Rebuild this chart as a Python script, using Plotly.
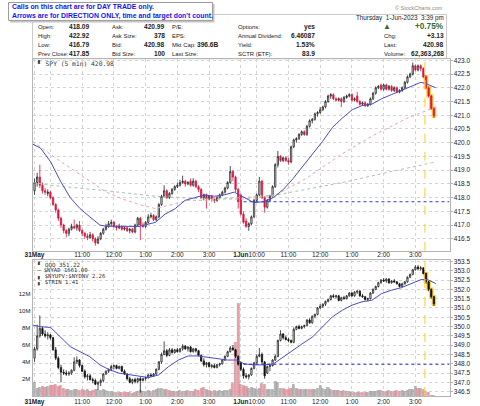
import plotly.graph_objects as go

# ------------------------------------------
# DATA  (5-min bars: 0..77 = 31 May 9:30-15:55, 78..151 = 1 Jun 9:30-15:35)
# ------------------------------------------
SPY_OPEN = [
    418.25, 418.55, 418.75, 418.45, 418.25, 418.15, 418.2, 418.0, 417.75, 417.55,
    417.25, 417.0, 416.8, 416.7, 416.85, 416.95, 416.9, 417.0, 416.8, 416.7,
    416.6, 416.55, 416.65, 416.5, 416.35, 416.5, 416.7, 416.85, 416.95, 417.05,
    417.1, 416.95, 416.9, 416.95, 416.85, 416.9, 416.8, 416.85, 416.75, 417.0,
    417.25, 417.0, 416.95, 417.1, 417.3, 417.35, 417.2, 417.3, 417.75, 418.05,
    418.25, 418.0, 418.15, 418.3, 418.4, 418.45, 418.55, 418.6, 418.5, 418.6,
    418.45, 418.6, 418.4, 418.3, 418.0, 418.1, 417.95, 418.05, 417.95, 417.9,
    418.0, 418.1, 418.2, 418.35, 418.55, 418.95, 418.75, 418.3,
    # 1 Jun
    418.09, 417.4, 417.15, 416.95, 417.05, 417.3, 417.9, 418.1, 418.6, 418.0,
    417.65, 417.9, 418.05, 418.4, 419.2, 419.5, 419.35, 419.45, 419.35, 419.3,
    419.85, 420.1, 420.15, 420.3, 420.4, 420.3, 420.6, 420.8, 420.85, 421.05,
    421.1, 421.2, 421.3, 421.5, 421.7, 421.75, 421.6, 421.55, 421.6, 421.5,
    421.65, 421.7, 421.75, 421.55, 421.7, 421.5, 421.4, 421.45, 421.35, 421.4,
    421.6, 421.8, 422.0, 422.1, 421.95, 422.1, 421.95, 422.05, 421.9, 422.0,
    421.85, 421.9, 422.0, 422.2, 422.4, 422.5, 422.8, 422.65, 422.8, 422.7,
    422.4, 422.0, 421.7, 421.25,
]
SPY_HIGH = [
    418.7, 418.9, 419.2, 418.55, 418.35, 418.3, 418.25, 418.05, 417.8, 417.6,
    417.3, 417.05, 416.85, 416.9, 417.05, 417.2, 417.05, 417.15, 416.85, 416.75,
    416.7, 416.75, 416.7, 416.55, 416.6, 416.75, 416.9, 417.05, 417.15, 417.2,
    417.15, 417.0, 417.05, 417.0, 416.95, 416.95, 416.9, 416.9, 417.05, 417.3,
    417.3, 417.1, 417.15, 417.4, 417.45, 417.4, 417.35, 417.8, 418.1, 418.45,
    418.3, 418.2, 418.35, 418.45, 418.55, 418.65, 418.8, 418.65, 418.6, 418.7,
    418.7, 418.65, 418.45, 418.35, 418.15, 418.15, 418.1, 418.1, 418.0, 418.05,
    418.15, 418.25, 418.4, 418.6, 419.15, 419.0, 418.8, 418.35,
    # 1 Jun
    418.15, 417.5, 417.25, 417.1, 417.35, 417.95, 418.15, 418.75, 418.65, 418.05,
    417.95, 418.1, 418.45, 419.25, 419.7, 419.55, 419.5, 419.5, 419.45, 419.9,
    420.15, 420.2, 420.35, 420.45, 420.45, 420.65, 420.85, 420.9, 421.1, 421.15,
    421.3, 421.35, 421.55, 421.75, 421.8, 421.8, 421.65, 421.65, 421.65, 421.7,
    421.75, 421.8, 421.8, 421.65, 421.85, 421.55, 421.5, 421.5, 421.45, 421.65,
    421.85, 422.05, 422.1, 422.15, 422.15, 422.15, 422.1, 422.1, 422.05, 422.05,
    421.95, 422.05, 422.25, 422.45, 422.55, 422.92, 422.85, 422.85, 422.85, 422.75,
    422.45, 422.05, 421.75, 421.3,
]
SPY_LOW = [
    418.1, 418.4, 418.35, 418.15, 418.1, 418.05, 417.95, 417.7, 417.45, 417.15,
    416.9, 416.7, 416.55, 416.6, 416.8, 416.85, 416.8, 416.75, 416.6, 416.5,
    416.45, 416.5, 416.4, 416.25, 416.3, 416.45, 416.65, 416.8, 416.9, 416.95,
    416.9, 416.8, 416.85, 416.8, 416.8, 416.75, 416.7, 416.7, 416.7, 416.95,
    416.45, 416.9, 416.9, 417.05, 417.25, 417.15, 417.15, 417.25, 417.7, 418.0,
    417.95, 417.95, 418.1, 418.25, 418.35, 418.4, 418.5, 418.4, 418.45, 418.4,
    418.4, 418.35, 418.2, 417.95, 417.9, 417.6, 417.9, 417.85, 417.8, 417.85,
    417.95, 418.05, 418.15, 418.3, 418.5, 418.6, 418.2, 417.6,
    # 1 Jun
    417.35, 417.05, 416.9, 416.79, 417.0, 417.25, 417.85, 418.05, 417.95, 417.45,
    417.6, 417.85, 418.0, 418.35, 419.1, 419.3, 419.3, 419.3, 419.2, 419.25,
    419.8, 420.0, 420.1, 420.25, 420.25, 420.25, 420.55, 420.7, 420.8, 420.95,
    421.05, 421.15, 421.25, 421.45, 421.6, 421.55, 421.5, 421.5, 421.3, 421.45,
    421.6, 421.65, 421.5, 421.5, 421.45, 421.35, 421.35, 421.3, 421.3, 421.35,
    421.55, 421.75, 421.95, 421.9, 421.9, 421.9, 421.9, 421.85, 421.85, 421.8,
    421.8, 421.85, 421.95, 422.15, 422.35, 422.45, 422.6, 422.6, 422.6, 422.35,
    421.95, 421.65, 421.2, 420.9,
]
SPY_CLOSE = [
    418.55, 418.75, 418.45, 418.25, 418.2, 418.2, 418.0, 417.75, 417.55, 417.25,
    417.0, 416.8, 416.7, 416.85, 416.95, 416.9, 417.0, 416.8, 416.7, 416.6,
    416.55, 416.65, 416.5, 416.35, 416.5, 416.7, 416.85, 416.95, 417.05, 417.1,
    416.95, 416.9, 416.95, 416.85, 416.9, 416.8, 416.85, 416.75, 417.0, 417.25,
    417.0, 416.95, 417.1, 417.3, 417.35, 417.2, 417.3, 417.75, 418.05, 418.25,
    418.0, 418.15, 418.3, 418.4, 418.45, 418.55, 418.6, 418.5, 418.55, 418.45,
    418.6, 418.4, 418.3, 418.0, 418.1, 417.95, 418.05, 417.95, 417.9, 418.0,
    418.1, 418.2, 418.35, 418.55, 418.95, 418.75, 418.3, 417.85,
    # 1 Jun
    417.4, 417.1, 416.95, 417.05, 417.3, 417.9, 418.1, 418.6, 418.0, 417.65,
    417.9, 418.05, 418.4, 419.2, 419.5, 419.35, 419.45, 419.35, 419.3, 419.85,
    420.1, 420.15, 420.3, 420.4, 420.3, 420.6, 420.8, 420.85, 421.05, 421.1,
    421.2, 421.3, 421.5, 421.7, 421.75, 421.6, 421.55, 421.6, 421.5, 421.65,
    421.7, 421.75, 421.55, 421.6, 421.5, 421.4, 421.45, 421.35, 421.4, 421.6,
    421.8, 422.0, 422.05, 421.95, 422.1, 421.95, 422.05, 421.9, 422.0, 421.85,
    421.9, 422.0, 422.2, 422.4, 422.5, 422.8, 422.65, 422.8, 422.7, 422.4,
    422.0, 421.7, 421.25, 420.98,
]

QQQ_OPEN = [
    348.3, 348.8, 349.5, 349.9, 349.6, 349.5, 349.55, 349.4, 348.75, 348.3,
    347.8, 347.55, 347.5, 347.45, 347.5, 347.65, 348.1, 348.2, 347.9, 347.6,
    347.3, 347.35, 347.15, 347.1, 346.9, 347.0, 347.1, 347.45, 347.6, 347.7,
    347.85, 347.9, 347.75, 347.85, 347.6, 347.45, 347.2, 347.0, 347.15, 347.05,
    347.2, 347.1, 347.2, 347.25, 347.4, 347.35, 347.45, 347.7, 348.1, 348.5,
    348.7, 348.45, 348.75, 348.6, 348.75, 348.65, 348.8, 348.95, 348.8, 348.9,
    348.65, 348.8, 348.7, 348.45, 348.15, 347.95, 348.05, 347.85, 347.9, 347.8,
    347.95, 348.0, 348.2, 348.4, 348.65, 348.85, 348.75, 348.4,
    # 1 Jun
    348.05, 347.7, 347.35, 347.3, 347.4, 347.75, 348.05, 348.4, 348.5, 348.1,
    347.5, 347.85, 347.9, 348.2, 348.4, 349.25, 349.6, 349.4, 349.3, 349.25,
    349.15, 349.85, 350.0, 349.9, 350.0, 350.05, 350.35, 350.2, 350.55, 350.65,
    351.0, 351.1, 351.2, 351.35, 351.45, 351.65, 351.6, 351.65, 351.4, 351.55,
    351.5, 351.65, 351.8, 351.65, 351.85, 351.9, 351.65, 351.6, 351.45, 351.5,
    351.8, 352.0, 352.15, 352.35, 352.5, 352.45, 352.55, 352.35, 352.45, 352.4,
    352.3, 352.15, 352.3, 352.4, 352.65, 352.8, 353.05, 353.2, 353.1, 353.15,
    352.85, 352.4, 352.0, 351.6,
]
QQQ_HIGH = [
    348.9, 350.1, 350.6, 350.0, 349.8, 349.7, 349.6, 349.45, 348.9, 348.4,
    347.95, 347.7, 347.65, 347.6, 347.7, 348.35, 348.4, 348.25, 347.95, 347.7,
    347.45, 347.45, 347.25, 347.2, 347.05, 347.2, 347.5, 347.65, 347.75, 347.95,
    347.95, 347.95, 347.9, 347.9, 347.7, 347.5, 347.3, 347.2, 347.25, 347.25,
    347.3, 347.25, 347.3, 347.45, 347.5, 347.5, 347.75, 348.15, 348.6, 349.2,
    348.8, 348.85, 348.85, 348.8, 348.85, 348.85, 349.05, 349.0, 348.95, 348.95,
    348.85, 348.85, 348.75, 348.5, 348.3, 348.1, 348.1, 348.0, 348.0, 348.0,
    348.05, 348.25, 348.45, 348.7, 348.95, 349.0, 348.8, 348.45,
    # 1 Jun
    348.1, 347.8, 347.5, 347.45, 347.8, 348.1, 348.5, 348.85, 348.6, 348.15,
    347.9, 347.95, 348.25, 348.5, 349.3, 349.8, 349.65, 349.5, 349.4, 349.3,
    349.95, 350.05, 350.1, 350.05, 350.1, 350.4, 350.45, 350.6, 350.7, 351.05,
    351.2, 351.25, 351.4, 351.5, 351.7, 351.75, 351.7, 351.7, 351.6, 351.65,
    351.7, 351.85, 351.85, 351.9, 351.95, 351.95, 351.75, 351.65, 351.55, 351.85,
    352.05, 352.2, 352.4, 352.55, 352.6, 352.6, 352.6, 352.5, 352.55, 352.45,
    352.35, 352.35, 352.45, 352.7, 352.85, 353.1, 353.3, 353.3, 353.25, 353.2,
    352.9, 352.45, 352.05, 351.65,
]
QQQ_LOW = [
    348.1, 348.7, 349.4, 349.5, 349.4, 349.3, 349.3, 348.7, 348.2, 347.7,
    347.0, 347.4, 347.35, 347.35, 347.4, 347.6, 348.0, 347.8, 347.55, 347.2,
    347.1, 347.1, 346.95, 346.85, 346.6, 346.8, 347.0, 347.4, 347.5, 347.6,
    347.7, 347.7, 347.7, 347.55, 347.4, 347.1, 346.95, 346.9, 346.95, 346.95,
    346.45, 347.05, 347.1, 347.2, 347.3, 347.3, 347.4, 347.65, 348.0, 348.45,
    348.35, 348.4, 348.55, 348.55, 348.6, 348.6, 348.7, 348.75, 348.65, 348.6,
    348.6, 348.6, 348.4, 348.1, 347.85, 347.8, 347.8, 347.75, 347.75, 347.75,
    347.85, 347.95, 348.15, 348.35, 348.6, 348.7, 348.3, 347.9,
    # 1 Jun
    347.6, 347.2, 347.2, 347.15, 347.35, 347.7, 348.0, 348.35, 348.0, 347.2,
    347.45, 347.6, 347.85, 348.15, 348.35, 349.2, 349.3, 349.25, 349.15, 349.1,
    349.1, 349.8, 349.85, 349.85, 349.9, 350.0, 350.15, 350.15, 350.45, 350.6,
    350.95, 351.0, 351.1, 351.3, 351.4, 351.55, 351.5, 351.35, 351.35, 351.45,
    351.45, 351.6, 351.6, 351.6, 351.75, 351.6, 351.55, 351.4, 351.35, 351.45,
    351.75, 351.95, 352.1, 352.3, 352.4, 352.35, 352.3, 352.3, 352.35, 352.25,
    352.1, 352.1, 352.25, 352.35, 352.6, 352.75, 353.0, 353.05, 353.0, 352.8,
    352.3, 351.9, 351.5, 351.1,
]
QQQ_CLOSE = [
    348.8, 349.5, 349.9, 349.6, 349.5, 349.55, 349.4, 348.75, 348.3, 347.8,
    347.55, 347.5, 347.45, 347.5, 347.65, 348.1, 348.2, 347.9, 347.6, 347.3,
    347.35, 347.15, 347.1, 346.9, 347.0, 347.1, 347.45, 347.6, 347.7, 347.85,
    347.9, 347.75, 347.85, 347.6, 347.45, 347.2, 347.0, 347.15, 347.05, 347.2,
    347.1, 347.2, 347.25, 347.4, 347.35, 347.45, 347.7, 348.1, 348.5, 348.7,
    348.45, 348.75, 348.6, 348.75, 348.65, 348.8, 348.95, 348.8, 348.9, 348.65,
    348.8, 348.7, 348.45, 348.15, 347.95, 348.05, 347.85, 347.9, 347.8, 347.95,
    348.0, 348.2, 348.4, 348.65, 348.85, 348.75, 348.4, 347.97,
    # 1 Jun
    347.7, 347.35, 347.3, 347.4, 347.75, 348.05, 348.4, 348.5, 348.1, 347.35,
    347.85, 347.9, 348.2, 348.4, 349.25, 349.6, 349.4, 349.3, 349.25, 349.15,
    349.85, 350.0, 349.9, 350.0, 350.05, 350.35, 350.2, 350.55, 350.65, 351.0,
    351.1, 351.2, 351.35, 351.45, 351.65, 351.6, 351.65, 351.4, 351.55, 351.5,
    351.65, 351.8, 351.65, 351.85, 351.9, 351.65, 351.6, 351.45, 351.5, 351.8,
    352.0, 352.15, 352.35, 352.5, 352.45, 352.55, 352.35, 352.45, 352.4, 352.3,
    352.15, 352.3, 352.4, 352.65, 352.8, 353.05, 353.2, 353.1, 353.15, 352.85,
    352.4, 352.0, 351.6, 351.22,
]

# volume, millions of shares
VOLUME_M = [
    1.6, 0.9, 1.0, 1.1, 1.0, 1.1, 1.2, 1.2, 1.3, 1.1,
    1.2, 0.9, 0.7, 0.7, 0.6, 0.8, 0.7, 0.6, 0.7, 0.6,
    0.7, 0.5, 0.6, 0.8, 0.7, 0.6, 0.7, 0.6, 0.5, 0.5,
    0.4, 0.45, 0.4, 0.35, 0.4, 0.4, 0.35, 0.3, 0.4, 0.5,
    0.6, 0.5, 0.5, 0.6, 0.55, 0.6, 0.8, 0.9, 0.9, 0.8,
    0.7, 0.6, 0.55, 0.5, 0.5, 0.6, 0.5, 0.55, 0.6, 0.5,
    0.55, 0.7, 0.6, 0.9, 1.0, 0.8, 0.6, 0.55, 0.6, 0.5,
    0.6, 0.55, 0.65, 0.6, 0.7, 1.5, 6.3, 10.8,
    # 1 Jun
    1.3, 1.2, 1.1, 0.9, 1.0, 0.9, 0.8, 0.9, 1.4, 1.3,
    0.8, 0.7, 0.8, 1.7, 1.6, 0.9, 0.9, 0.8, 0.8, 0.9,
    1.3, 0.9, 0.8, 0.7, 0.7, 0.8, 0.7, 0.7, 0.8, 0.9,
    1.2, 0.9, 0.8, 1.0, 0.7, 0.6, 0.6, 0.6, 0.5, 0.6,
    0.5, 0.5, 0.4, 0.4, 0.45, 0.4, 0.35, 0.4, 0.4, 0.5,
    0.5, 0.5, 0.6, 0.6, 0.5, 0.5, 0.6, 0.5, 0.5, 0.6,
    0.5, 0.6, 0.5, 0.6, 0.7, 0.8, 1.1, 0.9, 0.9, 0.8,
    0.5, 0.4, 0.0, 0.0,
]

# moving averages (bar position, value)
SPY_MA_X = [-0.7, 2.3, 6.1, 9.8, 13.5, 17.2, 20.9, 24.7, 27.1, 33.3,
            39.5, 45.7, 49.4, 53.2, 56.9, 60.6, 64.3, 68, 71.7, 75.5,
            78.6, 82.9, 86.6, 90.3, 94.1, 97.8, 101.5, 105.2, 108.9, 112.6,
            116.4, 120.1, 123.8, 127.5, 131.2, 134.9, 138.7, 142.4, 146.1, 148,
            150.4, 151.7]
SPY_MA_Y = [419.95, 419.8, 419.3, 418.6, 418.0, 417.6, 417.3, 417.0, 416.96, 416.95,
            416.95, 417.1, 417.4, 417.6, 417.9, 418.0, 418.1, 418.05, 418.1, 418.2,
            418.05, 417.82, 417.85, 418.0, 418.3, 418.7, 419.15, 419.6, 420.05, 420.55,
            420.9, 421.2, 421.35, 421.4, 421.6, 421.75, 421.9, 422.05, 422.2, 422.15,
            422.05, 422.0]
SPY_MA50_X = [-0.7, 8.6, 20.9, 27.1, 33.3, 39.5, 45.7, 52, 58.1, 64.3,
              70.5, 78.6, 90.3, 102.7, 116.4, 128.7, 141.1, 151.7]
SPY_MA50_Y = [420.05, 419.4, 418.6, 418.2, 417.95, 417.75, 417.6, 417.75, 417.9, 417.9,
              417.95, 417.95, 418.05, 418.7, 419.6, 420.3, 420.9, 421.3]
SPY_MA200_X = [-0.7, 6.1, 27.1, 45.7, 64.3, 78.6, 91.6, 116.4, 134.9, 151.7]
SPY_MA200_Y = [418.55, 418.45, 418.25, 418.05, 417.95, 418.0, 418.1, 418.55, 418.95, 419.3]

QQQ_MA_X = [-0.7, 2.3, 6.1, 9.8, 13.5, 17.2, 20.9, 24.7, 28.4, 32.1,
            35.8, 39.5, 43.2, 46.9, 50.7, 54.4, 58.1, 61.8, 65.5, 69.3,
            73, 76.7, 79.2, 82.9, 86.6, 90.3, 94.1, 97.8, 101.5, 105.2,
            108.9, 112.6, 116.4, 120.1, 123.8, 127.5, 131.2, 134.9, 138.7, 142.4,
            146.1, 148.6, 151.7]
QQQ_MA_Y = [350.08, 349.99, 349.95, 349.45, 348.92, 348.65, 348.38, 347.94, 347.67, 347.49,
            347.4, 347.31, 347.26, 347.4, 347.85, 348.2, 348.42, 348.42, 348.35, 348.3,
            348.2, 348.2, 348.0, 347.94, 347.94, 347.99, 348.38, 348.74, 349.1, 349.45,
            349.99, 350.52, 350.88, 351.15, 351.33, 351.41, 351.77, 351.95, 352.09, 352.31,
            352.52, 352.52, 352.31]

SPY_PREV_CLOSE = 417.85
QQQ_PREV_CLOSE = 347.97
DAY2_START = 78
MARK_BAR = 147.6          # yellow dashed time marker
HL_FROM = 148             # highlighted (last) bars

TICK_POS = [0, 6, 18, 30, 42, 54, 66, 78, 84, 96, 108, 120, 132, 144]
TICK_TEXT = ["<b>31May</b>", "", "11:00", "12:00", "1:00", "2:00", "3:00",
             "<b>1Jun</b>", "10:00", "11:00", "12:00", "1:00", "2:00", "3:00"]
VOL_TICKS = [2, 4, 6, 8, 10, 12]

INFO = [
    ("Open:", "418.09", "Ask:", "420.99", "P/E:", "", "Options:", "yes"),
    ("High:", "422.92", "Ask Size:", "378", "EPS:", "", "Annual Dividend:", "6.46087"),
    ("Low:", "416.79", "Bid:", "420.98", "Mkt Cap:", "396.6B", "Yield:", "1.53%"),
    ("Prev Close:", "417.85", "Bid Size:", "100", "Last Size:", "", "SCTR (ETF):", "83.9"),
]
QUOTE = [("", "+0.75%"), ("Chg:", "+3.13"), ("Last:", "420.98"), ("Volume:", "62,363,268")]

# ------------------------------------------
# STYLE
# ------------------------------------------
W, H = 480, 406
X_L, X_R = 25, 449
TOP_PANEL = (57, 250)       # pixel rows
BOT_PANEL = (259, 396)
X_RANGE = [-0.74, 156.9]
SPY_RANGE = [416.065, 423.058]
QQQ_RANGE = [346.265, 353.59]
VOL_MAX = 16.02

SANS = "Liberation Sans, Arial, sans-serif"
MONO = "DejaVu Sans Mono, monospace"
GRID = "#d4d4d4"
FRAME = "#b4b4b4"
RED = "#d9163c"
PINK = "#eaa3ad"
GRAY_VOL = "#b9b9b9"
BLUE_MA = "#4b4bc8"
YELLOW = "#ffd24a"


def px(x):
    return x / W


def py(y):
    return 1 - y / H


annotations = []


def txt(x, y, s, anchor="left", size=6.5, bold=False, color="#222222", family=SANS):
    if bold:
        s = f"<b>{s}</b>"
    annotations.append(dict(
        x=px(x), y=py(y), xref="paper", yref="paper", text=s, showarrow=False,
        xanchor=anchor, yanchor="middle", font=dict(family=family, size=size, color=color),
    ))


bars = list(range(len(SPY_CLOSE)))
fig = go.Figure()

# volume (bottom panel, left axis)
vol_col = [PINK if c < o else GRAY_VOL for o, c in zip(QQQ_OPEN, QQQ_CLOSE)]
vol_line = ["#c77c88" if c < o else "#8f8f8f" for o, c in zip(QQQ_OPEN, QQQ_CLOSE)]
fig.add_trace(go.Bar(
    x=bars, y=[v * 1e6 for v in VOLUME_M], xaxis="x2", yaxis="y2", width=0.8,
    marker=dict(color=vol_col, line=dict(color=vol_line, width=0.5)),
    showlegend=False, hoverinfo="skip",
))


def candles(o, h, l, c, xs, xaxis, yaxis, inc, inc_fill, dec, dec_fill, lw=0.8):
    return go.Candlestick(
        x=xs, open=o, high=h, low=l, close=c, xaxis=xaxis, yaxis=yaxis,
        increasing=dict(line=dict(color=inc, width=lw), fillcolor=inc_fill),
        decreasing=dict(line=dict(color=dec, width=lw), fillcolor=dec_fill),
        whiskerwidth=0, showlegend=False, hoverinfo="skip",
    )


# yellow glow behind the last bars
hl = slice(HL_FROM, None)
fig.add_trace(candles(SPY_OPEN[hl], SPY_HIGH[hl], SPY_LOW[hl], SPY_CLOSE[hl], bars[hl],
                      "x", "y", YELLOW, YELLOW, YELLOW, YELLOW, lw=3.5))
fig.add_trace(candles(QQQ_OPEN[hl], QQQ_HIGH[hl], QQQ_LOW[hl], QQQ_CLOSE[hl], bars[hl],
                      "x2", "y3", YELLOW, YELLOW, YELLOW, YELLOW, lw=3.5))

fig.add_trace(candles(SPY_OPEN, SPY_HIGH, SPY_LOW, SPY_CLOSE, bars, "x", "y",
                      "#222222", "white", RED, RED))
fig.add_trace(candles(QQQ_OPEN, QQQ_HIGH, QQQ_LOW, QQQ_CLOSE, bars, "x2", "y3",
                      "#222222", "white", "#111111", "#111111"))

# moving averages
fig.add_trace(go.Scatter(x=SPY_MA50_X, y=SPY_MA50_Y, mode="lines", xaxis="x", yaxis="y",
                         line=dict(color="#e7a4b0", width=1, dash="dot"),
                         showlegend=False, hoverinfo="skip"))
fig.add_trace(go.Scatter(x=SPY_MA200_X, y=SPY_MA200_Y, mode="lines", xaxis="x", yaxis="y",
                         line=dict(color="#a9c4a9", width=1, dash="dot"),
                         showlegend=False, hoverinfo="skip"))
fig.add_trace(go.Scatter(x=SPY_MA_X, y=SPY_MA_Y, mode="lines", xaxis="x", yaxis="y",
                         line=dict(color=BLUE_MA, width=1),
                         showlegend=False, hoverinfo="skip"))
fig.add_trace(go.Scatter(x=QQQ_MA_X, y=QQQ_MA_Y, mode="lines", xaxis="x2", yaxis="y3",
                         line=dict(color=BLUE_MA, width=1),
                         showlegend=False, hoverinfo="skip"))

# previous close lines (day 2 only)
for ref, val in (("y", SPY_PREV_CLOSE), ("y3", QQQ_PREV_CLOSE)):
    fig.add_trace(go.Scatter(
        x=[DAY2_START + 1, X_RANGE[1]], y=[val, val], mode="lines",
        xaxis="x" if ref == "y" else "x2", yaxis=ref,
        line=dict(color="#3434e0", width=1, dash="dot"), showlegend=False, hoverinfo="skip",
    ))

# time marker
shapes = []
for yr in ("y domain", "y2 domain"):
    shapes.append(dict(type="line", xref="x", yref=yr, x0=MARK_BAR, x1=MARK_BAR, y0=0, y1=1,
                       line=dict(color=YELLOW, width=1.2, dash="dash")))

# header boxes
shapes.append(dict(type="rect", xref="paper", yref="paper", x0=px(X_L), x1=px(446),
                   y0=py(57), y1=py(12.5), line=dict(color="#c8c8c8", width=1), layer="below"))
shapes.append(dict(type="rect", xref="paper", yref="paper", x0=px(2), x1=px(210),
                   y0=py(20.5), y1=py(2), fillcolor="#c4c4c4", line=dict(width=0)))
shapes.append(dict(type="rect", xref="paper", yref="paper", x0=px(0.5), x1=px(208),
                   y0=py(18.5), y1=py(0.5), fillcolor="white",
                   line=dict(color="#9a9a9a", width=1)))

# texts
txt(2, 5, "Calls on this chart are for DAY TRADE only.", size=6.9, bold=True, color="#1515ee")
txt(2, 14, "Arrows are for DIRECTION ONLY, time and target don't count.", size=6.9, bold=True,
    color="#1515ee")
txt(444, 6, "© StockCharts.com", anchor="right", size=5.5, color="#8a8a8a")
txt(445, 16, "Thursday  1-Jun-2023  3:39 pm", anchor="right", size=6.3)

ROWS = [25, 34, 43, 52]
COLS = [(28, 85), (104, 162), (165, 217), (232, 314)]
for row, y in zip(INFO, ROWS):
    for k, (lx, vx) in enumerate(COLS):
        txt(lx, y, row[2 * k], size=5.9)
        if row[2 * k + 1]:
            txt(vx, y, row[2 * k + 1], anchor="right", size=6.6, bold=True)

txt(385.5, 25, "▲", anchor="center", size=8, color="#2f6e34")
for (lab, val), y in zip(QUOTE, ROWS):
    if lab:
        txt(380, y, lab, size=5.9)
        txt(445, y, val, anchor="right", size=6.6, bold=True)
    else:
        txt(445, y, val, anchor="right", size=8.2, bold=True, color="#2f6e34")

txt(27, 61.5, f"▘ SPY (5 min) {SPY_CLOSE[-1]:.2f}", size=6.3, family=MONO, color="#333333")
txt(27, 263.5, f"▘ QQQ {QQQ_CLOSE[-1]:.2f}", size=5.8, family=MONO, color="#333333")
txt(27, 269.5, "— $NYAD 1661.00", size=5.6, family=MONO, color="#333333")
txt(27, 275.5, "▖ $NYUPV:$NYDNV 2.26", size=5.6, family=MONO, color="#333333")
txt(27, 281.5, "▖ $TRIN 1.41", size=5.6, family=MONO, color="#333333")

# ------------------------------------------
# LAYOUT
# ------------------------------------------
tickfont = dict(family=SANS, size=6.5, color="#222222")
xcommon = dict(
    domain=[px(X_L), px(X_R)], range=X_RANGE, tickmode="array",
    tickvals=TICK_POS, ticktext=TICK_TEXT, tickfont=tickfont, ticks="", tickangle=0,
    showgrid=True, gridcolor=GRID, griddash="dot", gridwidth=1,
    showline=True, mirror=True, linecolor=FRAME, linewidth=1,
    zeroline=False, rangeslider=dict(visible=False), fixedrange=True,
)
ycommon = dict(
    side="right", tickmode="linear", tick0=0, dtick=0.5, tickformat=".1f", tickfont=tickfont,
    ticks="outside", ticklen=2, tickcolor=FRAME,
    showgrid=True, gridcolor=GRID, griddash="dot", gridwidth=1,
    zeroline=False, fixedrange=True,
)

fig.update_layout(
    width=W, height=H, margin=dict(l=0, r=0, t=0, b=0),
    paper_bgcolor="white", plot_bgcolor="white",
    showlegend=False, hovermode=False, bargap=0,
    xaxis=dict(anchor="y", ticklabelstandoff=-3, **xcommon),
    xaxis2=dict(anchor="y2", matches="x", ticklabelstandoff=-1, **xcommon),
    yaxis=dict(domain=[py(TOP_PANEL[1]), py(TOP_PANEL[0])], range=SPY_RANGE, anchor="x",
               showline=True, mirror=True, linecolor=FRAME, **ycommon),
    yaxis2=dict(domain=[py(BOT_PANEL[1]), py(BOT_PANEL[0])], range=[0, VOL_MAX * 1e6],
                anchor="x2", side="left", tickmode="array",
                tickvals=[v * 1e6 for v in VOL_TICKS], ticktext=[f"{v}M" for v in VOL_TICKS],
                tickfont=dict(family=SANS, size=6, color="#222222"), ticks="",
                showgrid=False, zeroline=False, showline=True, mirror=True,
                linecolor=FRAME, fixedrange=True),
    yaxis3=dict(overlaying="y2", anchor="x2", range=QQQ_RANGE, **ycommon),
    shapes=shapes,
    annotations=annotations,
)

# page body has a default 8px margin; drop it so the figure sits at the window origin
fig.write_html("out.html", config={"displayModeBar": False},
               post_script="document.body.style.margin='0';")
